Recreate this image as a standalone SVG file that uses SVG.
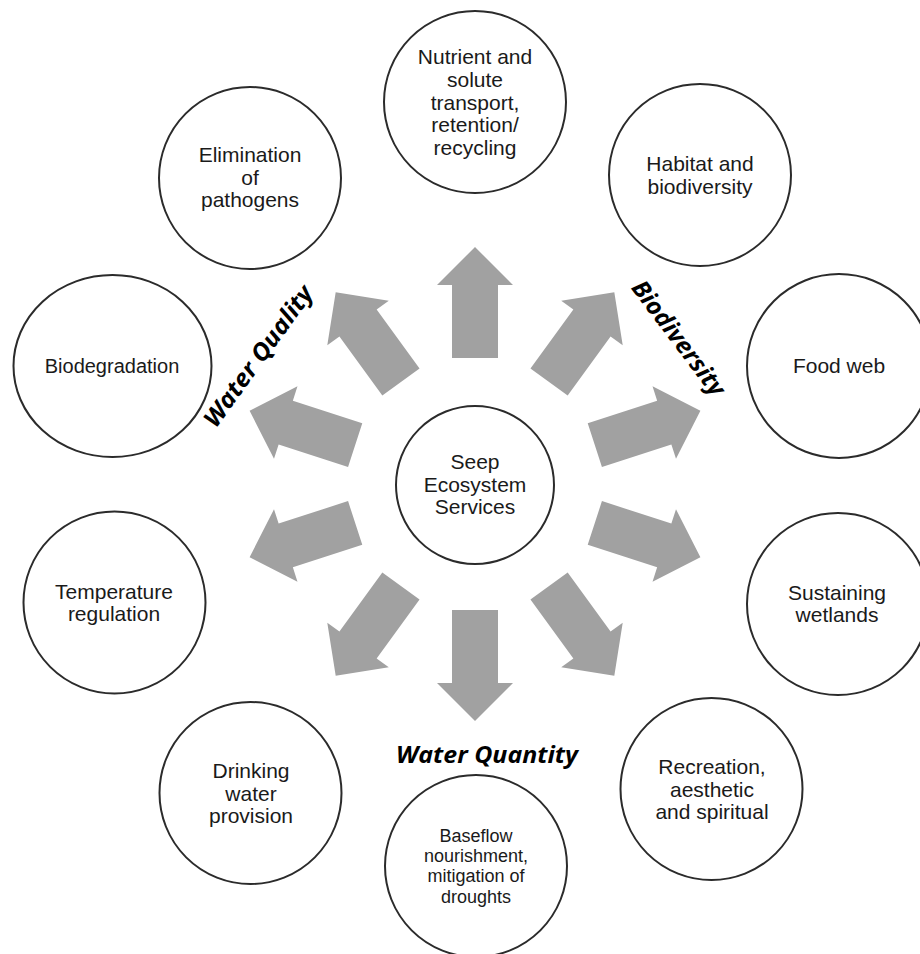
<svg xmlns="http://www.w3.org/2000/svg" xmlns:xlink="http://www.w3.org/1999/xlink" width="920" height="954" viewBox="0 0 920 954">
<style>
.node{fill:#fff;stroke:#2b2b2b;stroke-width:2}
.t{font-family:"Liberation Sans",Arial,sans-serif;font-size:21px;fill:#1a1a1a;text-anchor:middle}
.cat{font-family:"Open Sans","Lato",sans-serif;font-size:24px;font-weight:bold;font-style:italic;fill:#000;text-anchor:middle}
.arrow{fill:#a1a1a1}
</style>
<defs>
<path id="arr" d="M126,-23 L199,-23 L199,-38 L237,0 L199,38 L199,23 L126,23 Z"/>
</defs>
<rect width="920" height="954" fill="#fff"/>
<g id="connectors" class="arrow">
<use xlink:href="#arr" transform="translate(475,484) rotate(-90)"/>
<use xlink:href="#arr" transform="translate(475,484) rotate(-54)"/>
<use xlink:href="#arr" transform="translate(475,484) rotate(-18)"/>
<use xlink:href="#arr" transform="translate(475,484) rotate(18)"/>
<use xlink:href="#arr" transform="translate(475,484) rotate(54)"/>
<use xlink:href="#arr" transform="translate(475,484) rotate(90)"/>
<use xlink:href="#arr" transform="translate(475,484) rotate(126)"/>
<use xlink:href="#arr" transform="translate(475,484) rotate(162)"/>
<use xlink:href="#arr" transform="translate(475,484) rotate(-162)"/>
<use xlink:href="#arr" transform="translate(475,484) rotate(-126)"/>
</g>
<g id="center">
<circle class="node" cx="475" cy="485" r="79"/>
<text class="t"><tspan x="475" y="469">Seep</tspan><tspan x="475" y="491.5">Ecosystem</tspan><tspan x="475" y="513.5">Services</tspan></text>
</g>
<g id="nutrient">
<circle class="node" cx="475" cy="102" r="91"/>
<text class="t"><tspan x="475" y="64">Nutrient and</tspan><tspan x="475" y="87">solute</tspan><tspan x="475" y="109.5">transport,</tspan><tspan x="475" y="132">retention/</tspan><tspan x="475" y="154.5">recycling</tspan></text>
</g>
<g id="habitat">
<circle class="node" cx="700" cy="175" r="91"/>
<text class="t"><tspan x="700" y="171">Habitat and</tspan><tspan x="700" y="193.5">biodiversity</tspan></text>
</g>
<g id="foodweb">
<circle class="node" cx="839" cy="366" r="92"/>
<text class="t" x="839" y="373">Food web</text>
</g>
<g id="wetlands">
<circle class="node" cx="838" cy="604" r="91"/>
<text class="t"><tspan x="837" y="600">Sustaining</tspan><tspan x="837" y="622">wetlands</tspan></text>
</g>
<g id="recreation">
<circle class="node" cx="711.5" cy="789" r="91"/>
<text class="t"><tspan x="712" y="774">Recreation,</tspan><tspan x="712" y="796.5">aesthetic</tspan><tspan x="712" y="818.5">and spiritual</tspan></text>
</g>
<g id="baseflow">
<circle class="node" cx="476" cy="866" r="91"/>
<text class="t" style="font-size:18px"><tspan x="476" y="842">Baseflow</tspan><tspan x="476" y="862">nourishment,</tspan><tspan x="476" y="882">mitigation of</tspan><tspan x="476" y="902.5">droughts</tspan></text>
</g>
<g id="drinking">
<circle class="node" cx="250.5" cy="793" r="91"/>
<text class="t"><tspan x="251" y="778">Drinking</tspan><tspan x="251" y="800.5">water</tspan><tspan x="251" y="823">provision</tspan></text>
</g>
<g id="temperature">
<circle class="node" cx="114.5" cy="602.5" r="91"/>
<text class="t"><tspan x="114" y="598.5">Temperature</tspan><tspan x="114" y="621">regulation</tspan></text>
</g>
<g id="biodegradation">
<ellipse class="node" cx="112.5" cy="366" rx="99" ry="91"/>
<text class="t" style="font-size:20px" x="112" y="373">Biodegradation</text>
</g>
<g id="elimination">
<circle class="node" cx="250" cy="178" r="91"/>
<text class="t"><tspan x="250" y="162">Elimination</tspan><tspan x="250" y="184.5">of</tspan><tspan x="250" y="207">pathogens</tspan></text>
</g>
<g id="labels">
<text class="cat" transform="translate(265,361) rotate(-54)" textLength="168" lengthAdjust="spacingAndGlyphs">Water Quality</text>
<text class="cat" transform="translate(672,343) rotate(53)" textLength="138" lengthAdjust="spacingAndGlyphs">Biodiversity</text>
<text class="cat" x="487" y="763" textLength="182" lengthAdjust="spacingAndGlyphs">Water Quantity</text>
</g>
</svg>
